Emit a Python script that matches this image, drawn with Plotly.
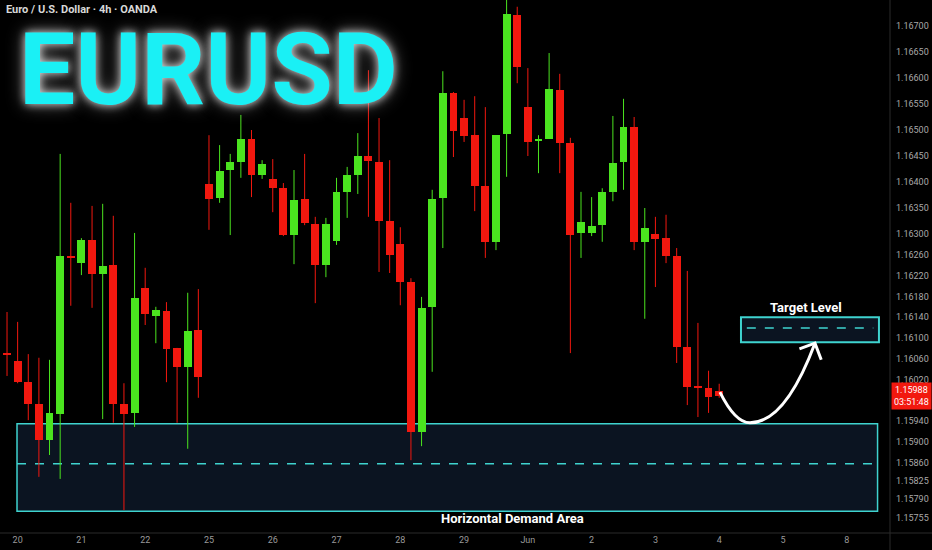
import plotly.graph_objects as go

# ---- data (EURUSD 4h, OANDA) ----
opens = [1.16071, 1.16056, 1.16015, 1.15973, 1.15904, 1.15954, 1.16258, 1.16244, 1.16288, 1.16223,
         1.16240, 1.15973, 1.15956, 1.16196, 1.16142, 1.16152, 1.16081, 1.16044, 1.16115, 1.16396,
         1.16369, 1.16423, 1.16438, 1.16483, 1.16413, 1.16406, 1.16388, 1.16298, 1.16367, 1.16319,
         1.16240, 1.16287, 1.16381, 1.16413, 1.16450, 1.16438, 1.16325, 1.16281, 1.16208, 1.15919,
         1.16160, 1.16369, 1.16571, 1.16523, 1.16490, 1.16392, 1.16285, 1.16492, 1.16721, 1.16544,
         1.16479, 1.16483, 1.16577, 1.16475, 1.16302, 1.16302, 1.16317, 1.16381, 1.16438, 1.16506,
         1.16285, 1.16300, 1.16292, 1.16258, 1.16083, 1.16008, 1.16004, 1.15998]
highs = [1.16150, 1.16131, 1.16069, 1.16062, 1.16058, 1.16454, 1.16360, 1.16292, 1.16354, 1.16358,
         1.16335, 1.16013, 1.16302, 1.16235, 1.16160, 1.16169, 1.16081, 1.16187, 1.16194, 1.16490,
         1.16471, 1.16454, 1.16529, 1.16500, 1.16442, 1.16444, 1.16398, 1.16423, 1.16454, 1.16333,
         1.16331, 1.16408, 1.16429, 1.16494, 1.16615, 1.16523, 1.16442, 1.16313, 1.16215, 1.16179,
         1.16385, 1.16613, 1.16573, 1.16558, 1.16565, 1.16544, 1.16490, 1.16756, 1.16737, 1.16619,
         1.16490, 1.16648, 1.16608, 1.16485, 1.16381, 1.16371, 1.16388, 1.16527, 1.16560, 1.16525,
         1.16350, 1.16333, 1.16337, 1.16273, 1.16229, 1.16129, 1.16037, 1.16012]
lows = [1.16027, 1.16013, 1.15942, 1.15833, 1.15875, 1.15829, 1.16162, 1.16221, 1.16158, 1.15944,
        1.15937, 1.15769, 1.15929, 1.16125, 1.16090, 1.16015, 1.15937, 1.15887, 1.15985, 1.16308,
        1.16360, 1.16298, 1.16408, 1.16371, 1.16406, 1.16342, 1.16296, 1.16242, 1.16317, 1.16167,
        1.16217, 1.16279, 1.16331, 1.16377, 1.16333, 1.16227, 1.16225, 1.16163, 1.15865, 1.15892,
        1.16035, 1.16273, 1.16448, 1.16477, 1.16344, 1.16254, 1.16269, 1.16410, 1.16590, 1.16450,
        1.16417, 1.16483, 1.16417, 1.16071, 1.16254, 1.16296, 1.16285, 1.16363, 1.16385, 1.16269,
        1.16137, 1.16198, 1.16244, 1.16052, 1.15971, 1.15948, 1.15956, 1.15985]
closes = [1.16067, 1.16015, 1.15973, 1.15904, 1.15956, 1.16258, 1.16254, 1.16288, 1.16223, 1.16238,
          1.15973, 1.15954, 1.16177, 1.16146, 1.16154, 1.16079, 1.16044, 1.16113, 1.16025, 1.16367,
          1.16421, 1.16438, 1.16483, 1.16413, 1.16435, 1.16388, 1.16298, 1.16365, 1.16321, 1.16240,
          1.16319, 1.16381, 1.16413, 1.16450, 1.16440, 1.16325, 1.16260, 1.16208, 1.15919, 1.16158,
          1.16367, 1.16571, 1.16498, 1.16488, 1.16392, 1.16285, 1.16490, 1.16723, 1.16621, 1.16477,
          1.16483, 1.16579, 1.16475, 1.16298, 1.16323, 1.16315, 1.16381, 1.16437, 1.16506, 1.16285,
          1.16312, 1.16290, 1.16258, 1.16083, 1.16006, 1.16004, 1.15987, 1.15988]

day_tick_pos = [1, 7, 13, 19, 25, 31, 37, 43, 49, 55, 61, 67, 73, 79]
day_tick_text = ["20", "21", "22", "25", "26", "27", "28", "29", "Jun", "2", "3", "4", "5", "8"]

price_ticks = [1.16750, 1.16700, 1.16650, 1.16600, 1.16550, 1.16500, 1.16450, 1.16400, 1.16350,
               1.16300, 1.16260, 1.16220, 1.16180, 1.16140, 1.16100, 1.16060, 1.16020, 1.15940,
               1.15900, 1.15860, 1.15825, 1.15790, 1.15755]

last_price = 1.15988
countdown = "03:51:48"

demand_zone = (1.15767, 1.15935)     # bottom, top
demand_mid = 1.15858
target_zone = (1.16092, 1.16140)
target_mid = 1.16119

GREEN = "#4be41f"
RED = "#f2180f"
ZONE = "#3fd3cf"

idx = list(range(len(opens)))
up = [i for i in idx if closes[i] >= opens[i]]
dn = [i for i in idx if closes[i] < opens[i]]

fig = go.Figure()

def wicks(ids, color):
    xs, ys = [], []
    for i in ids:
        xs += [i, i, None]
        ys += [lows[i], highs[i], None]
    fig.add_trace(go.Scatter(x=xs, y=ys, mode="lines", line=dict(color=color, width=1),
                             hoverinfo="skip", showlegend=False))

def bodies(ids, color):
    fig.add_trace(go.Bar(
        x=ids,
        base=[min(opens[i], closes[i]) for i in ids],
        y=[max(abs(closes[i] - opens[i]), 0.00003) for i in ids],
        width=0.74, marker=dict(color=color, line=dict(width=0)),
        showlegend=False, hoverinfo="skip"))

wicks(up, GREEN)
wicks(dn, RED)
bodies(up, GREEN)
bodies(dn, RED)

shapes = []
# demand zone
shapes.append(dict(type="rect", xref="x", yref="y", x0=0.94, x1=81.9, y0=demand_zone[0], y1=demand_zone[1],
                   fillcolor="#0b1421", line=dict(color=ZONE, width=1.5), layer="below"))
shapes.append(dict(type="line", xref="x", yref="y", x0=0.94, x1=81.9, y0=demand_mid, y1=demand_mid,
                   line=dict(color=ZONE, width=1.5, dash="dash"), layer="below"))
# target zone
shapes.append(dict(type="rect", xref="x", yref="y", x0=69.05, x1=82.03, y0=target_zone[0], y1=target_zone[1],
                   fillcolor="#0b1421", line=dict(color=ZONE, width=2), layer="below"))
shapes.append(dict(type="line", xref="x", yref="y", x0=69.6, x1=81.5, y0=target_mid, y1=target_mid,
                   line=dict(color=ZONE, width=1.5, dash="dash"), layer="below"))
# curved arrow
shapes.append(dict(type="path", xref="x", yref="y",
                   path="M 67.07,1.15996 Q 68.5,1.15937 69.9,1.15937 Q 73.2,1.15937 76.01,1.16090",
                   line=dict(color="white", width=3)))
shapes.append(dict(type="path", xref="x", yref="y",
                   path="M 74.55,1.16079 L 76.01,1.16090 L 76.6,1.16058",
                   line=dict(color="white", width=3)))
# panel separators
shapes.append(dict(type="line", xref="paper", yref="paper", x0=1, x1=1, y0=-0.04, y1=1,
                   line=dict(color="#2a2a2a", width=1)))
shapes.append(dict(type="line", xref="paper", yref="paper", x0=0, x1=1.05, y0=0, y1=0,
                   line=dict(color="#2a2a2a", width=1)))

annotations = []
annotations.append(dict(text="EURUSD", xref="paper", yref="paper", x=17 / 890, y=1 - 69 / 533,
                        xanchor="left", yanchor="middle", showarrow=False,
                        font=dict(family="Roboto, sans-serif", size=100,
                                  color="#1af0f5", weight="bold",
                                  shadow="0px 0px 8px rgba(255,255,255,0.8), 0px 0px 18px rgba(190,190,190,0.6)")))
annotations.append(dict(text="Euro / U.S. Dollar · 4h · OANDA", xref="paper", yref="paper",
                        x=4 / 890, y=1 - 9 / 533, xanchor="left", yanchor="middle", showarrow=False,
                        font=dict(family="Roboto, sans-serif", size=11, color="#d8d8d8", weight="bold")))
annotations.append(dict(text="<b>Horizontal Demand Area</b>", xref="x", yref="y", x=47.6, y=1.15752,
                        showarrow=False, font=dict(family="Roboto, sans-serif", size=13, color="white")))
annotations.append(dict(text="<b>Target Level</b>", xref="x", yref="y", x=75.2, y=1.16158,
                        showarrow=False, font=dict(family="Roboto, sans-serif", size=13, color="white")))
annotations.append(dict(text=f"{last_price:.5f}<br>{countdown}", xref="paper", yref="y", x=1, y=last_price,
                        xanchor="left", yanchor="middle", xshift=1, showarrow=False, bgcolor="#f2180f",
                        borderpad=2, align="center",
                        font=dict(family="Roboto, sans-serif", size=9, color="white")))

fig.update_layout(
    width=932, height=550,
    margin=dict(l=0, r=42, t=0, b=17),
    paper_bgcolor="#000000", plot_bgcolor="#000000",
    barmode="overlay", bargap=0,
    showlegend=False,
    shapes=shapes, annotations=annotations,
    xaxis=dict(range=[-0.66, 83.07], tickvals=day_tick_pos, ticktext=day_tick_text,
               showgrid=False, zeroline=False, showline=False, ticks="",
               tickfont=dict(family="Roboto, sans-serif", size=9, color="#9a9a9a"), fixedrange=True),
    yaxis=dict(range=[1.15725, 1.16750], side="right", tickvals=price_ticks,
               ticktext=[f"{v:.5f}" for v in price_ticks],
               showgrid=False, zeroline=False, showline=False, ticks="", ticklabelstandoff=5,
               tickfont=dict(family="Roboto, sans-serif", size=9, color="#a8a8a8")),
)

fig.write_html("out.html", config={"displayModeBar": False},
               post_script="document.body.style.margin='0px';document.body.style.background='#000';")
